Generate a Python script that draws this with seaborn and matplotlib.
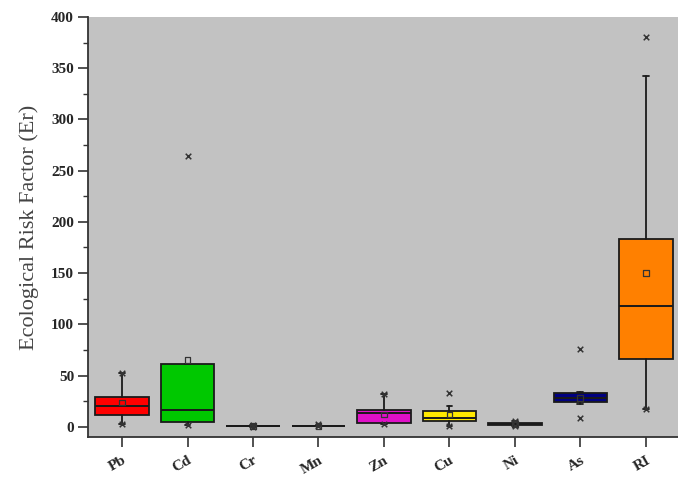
import matplotlib
matplotlib.use("Agg")
import matplotlib.pyplot as plt
import seaborn as sns
import pandas as pd
from matplotlib.ticker import MultipleLocator

categories = ['Pb', 'Cd', 'Cr', 'Mn', 'Zn', 'Cu', 'Ni', 'As', 'RI']
q1 = [11.7, 4.2, 0.3, 0.6, 4.0, 5.2, 1.8, 24.1, 66.3]
med = [20.5, 16.6, 0.5, 0.9, 13.3, 9.0, 2.6, 28.0, 118.3]
q3 = [29.3, 61.0, 0.8, 1.2, 16.0, 15.6, 3.6, 32.9, 183.0]
whisker_lo = [2.6, 1.3, 0.1, 0.3, 2.6, 1.0, 1.0, 22.0, 17.6]
whisker_hi = [52.7, 61.0, 1.5, 2.0, 31.9, 20.5, 5.2, 34.4, 342.7]
means = [23.7, 65.4, 0.6, 1.0, 12.0, 12.0, 2.6, 28.5, 150.0]
mins = [2.6, 1.3, 0.1, 0.3, 2.6, 1.0, 1.0, 8.1, 17.6]
maxs = [52.7, 264.0, 1.5, 2.5, 31.9, 32.8, 5.2, 75.8, 380.8]
colors = ['#FF0000', '#00C800', '#2020A0', '#20A0A0', '#E010C8', '#FFE800',
          '#303030', '#000080', '#FF8000']

sns.set_style("ticks", {"axes.facecolor": "#C2C2C2"})
plt.rcParams['font.family'] = ['Liberation Serif', 'DejaVu Serif']

fig = plt.figure(figsize=(6.78, 4.78), dpi=100)
ax = fig.add_axes([88 / 678, 1 - 437 / 478, 1 - 88 / 678, (437 - 17) / 478])

stats = []
for i, c in enumerate(categories):
    stats.append(dict(label=c, q1=q1[i], med=med[i], q3=q3[i],
                      whislo=whisker_lo[i], whishi=whisker_hi[i], fliers=[]))

pos = list(range(len(categories)))
bp = ax.bxp(stats, positions=pos, widths=0.82, patch_artist=True,
            showfliers=False, capwidths=0.09,
            boxprops=dict(edgecolor='#1a1a1a', linewidth=1.3),
            medianprops=dict(color='#1a1a1a', linewidth=1.4),
            whiskerprops=dict(color='#1a1a1a', linewidth=1.3),
            capprops=dict(color='#1a1a1a', linewidth=1.3))
for patch, col in zip(bp['boxes'], colors):
    patch.set_facecolor(col)

df_mean = pd.DataFrame({'x': pos, 'y': means})
df_ext = pd.DataFrame({'x': pos + pos, 'y': mins + maxs})
sns.scatterplot(data=df_mean, x='x', y='y', marker='s', s=18,
                facecolor='none', edgecolor='#333333', linewidth=0.9, ax=ax, zorder=5)
sns.scatterplot(data=df_ext, x='x', y='y', marker='x', s=16,
                color='#333333', linewidth=1.1, ax=ax, zorder=5)

ax.set_xlim(-0.52, 8.49)
ax.set_ylim(-10, 400)
ax.yaxis.set_major_locator(MultipleLocator(50))
ax.yaxis.set_minor_locator(MultipleLocator(25))
ax.set_xticks(pos)
ax.set_xticklabels(categories, rotation=30, ha='right', rotation_mode='anchor',
                   fontweight='bold', fontsize=11)
for lbl in ax.get_yticklabels():
    lbl.set_fontweight('bold')
    lbl.set_fontsize(11)
ax.tick_params(axis='y', which='major', length=7, width=1.2, direction='out', pad=3, color='#333333')
ax.tick_params(axis='y', which='minor', length=3.5, width=1.0, direction='out', color='#333333')
ax.tick_params(axis='x', which='major', length=7, width=1.2, direction='out', pad=5, color='#333333')
ax.set_xlabel('')
ax.set_ylabel('Ecological Risk Factor (Er)', fontsize=16, labelpad=9, color='#444444')

for s in ['top', 'right']:
    ax.spines[s].set_visible(False)
for s in ['left', 'bottom']:
    ax.spines[s].set_linewidth(1.3)
    ax.spines[s].set_color('#333333')

fig.savefig('out.png', dpi=100)
